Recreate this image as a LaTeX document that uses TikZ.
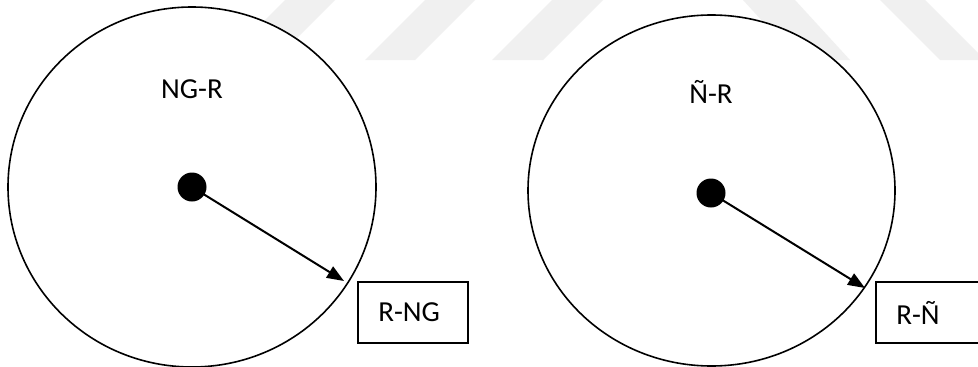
\documentclass[tikz,border=0pt]{standalone}
\usepackage{fontspec}
\setmainfont{Carlito}
\usetikzlibrary{shapes.geometric,arrows.meta}
\begin{document}
\begin{tikzpicture}[x=1pt,y=-1pt,
  wm/.style={fill=black!6,draw=none},
  ring/.style={ellipse,draw=black,fill=white,line width=1.6pt,inner sep=0pt},
  hub/.style={circle,fill=black,inner sep=0pt,minimum size=29pt},
  tagbox/.style={rectangle,draw=black,fill=white,line width=1.7pt,inner sep=0pt,minimum width=110pt,minimum height=61pt},
  lbl/.style={inner sep=0pt,font=\fontsize{29}{35}\selectfont},
  ray/.style={line width=2pt,-{Triangle[length=17pt,width=13pt]}}]
\useasboundingbox (0,0) rectangle (978,367);
\fill[white] (0,0) rectangle (978,367);
% faint watermark stripes
\path[wm] (285,0) -- (335,0) -- (275,60) -- (225,60) -- cycle;
\path[wm] (425,0) -- (475,0) -- (415,60) -- (365,60) -- cycle;
\path[wm] (552,0) -- (603,0) -- (543,60) -- (492,60) -- cycle;
\path[wm] (743,0) -- (795,0) -- (850,60) -- (798,60) -- cycle;
\path[wm] (880,0) -- (925,0) -- (985,60) -- (940,60) -- cycle;
% left figure
\node[ring,minimum width=368pt,minimum height=360pt] (c1) at (192,187) {};
\node[hub] (d1) at (192,187) {};
\coordinate (t1) at (344,281);
\draw[ray] (d1.center) -- (t1);
\node[lbl,anchor=base] (n1) at (192,98) {NG-R};
\node[tagbox] (b1) at (413,312.5) {};
\node[lbl,anchor=west] (r1) at ([xshift=21pt]b1.west) {R-NG};
% right figure
\node[ring,minimum width=367pt,minimum height=351pt] (c2) at (711.5,190.5) {};
\node[hub] (d2) at (711,193) {};
\coordinate (t2) at (865,288);
\draw[ray] (d2.center) -- (t2);
\node[lbl,anchor=base] (n2) at (711,103) {Ñ-R};
\node[tagbox] (b2) at (931,312.5) {};
\node[lbl,anchor=west] (r2) at ([xshift=21pt]b2.west) {R-Ñ};
\end{tikzpicture}
\end{document}
